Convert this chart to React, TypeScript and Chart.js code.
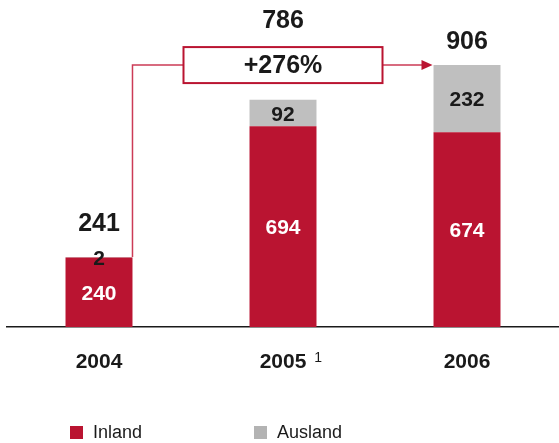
import { useEffect, useRef } from "react";
import { Chart, registerables } from "chart.js";

Chart.register(...registerables);

// ---- data ----
const categories = ["2004", "2005", "2006"];
const footnotes = ["", "1", ""];
const seriesNames = ["Inland", "Ausland"];
const inland = [240, 694, 674];
const ausland = [2, 92, 232];
const totals = [241, 786, 906];
const growthFrom = 0; // index of start category
const growthTo = 2; // index of end category
const growthLabel = "+276%";

// ---- styles ----
const RED = "#BA1431";
const GRAY = "#BFBFBF";
const LEGEND_GRAY = "#B3B3B3";
const LINE_RED = "#CC3B56";
const TEXT = "#1A1A1A";
const FONT = '"Liberation Sans", Arial, Helvetica, sans-serif';

const annotationPlugin = {
  id: "customDecor",
  afterDatasetsDraw(chart: any) {
    const ctx: CanvasRenderingContext2D = chart.ctx;
    const m0 = chart.getDatasetMeta(0);
    const m1 = chart.getDatasetMeta(1);
    const xScale = chart.scales.x;
    const yScale = chart.scales.y;
    const area = chart.chartArea;
    ctx.save();
    ctx.textAlign = "center";
    ctx.textBaseline = "middle";

    // segment labels
    for (let i = 0; i < categories.length; i++) {
      const b0 = m0.data[i].getProps(["x", "y", "base"], true);
      const b1 = m1.data[i].getProps(["x", "y", "base"], true);
      ctx.font = `bold 21px ${FONT}`;
      ctx.fillStyle = "#FFFFFF";
      ctx.fillText(String(inland[i]), b0.x, (b0.y + b0.base) / 2 + 2);
      ctx.fillStyle = TEXT;
      ctx.fillText(String(ausland[i]), b1.x, (b1.y + b1.base) / 2 + 2);
    }

    // annotation geometry
    const from = m1.data[growthFrom].getProps(["x", "y", "width"], true);
    const to = m1.data[growthTo].getProps(["x", "y", "width"], true);
    const levelY = yScale.getPixelForValue(totals[growthTo]);
    const startX = from.x + from.width / 2;
    const startY = from.y;
    const endX = to.x - to.width / 2;
    const boxCx = xScale.getPixelForValue(1);
    const boxW = 199;
    const boxH = 36;
    const boxL = boxCx - boxW / 2;
    const boxR = boxCx + boxW / 2;
    const boxT = levelY - boxH / 2;

    ctx.strokeStyle = LINE_RED;
    ctx.lineWidth = 1.5;
    ctx.beginPath();
    ctx.moveTo(startX, startY);
    ctx.lineTo(startX, levelY);
    ctx.lineTo(boxL, levelY);
    ctx.moveTo(boxR, levelY);
    ctx.lineTo(endX - 9, levelY);
    ctx.stroke();
    ctx.fillStyle = RED;
    ctx.beginPath();
    ctx.moveTo(endX - 1, levelY);
    ctx.lineTo(endX - 12, levelY - 5);
    ctx.lineTo(endX - 12, levelY + 5);
    ctx.closePath();
    ctx.fill();

    ctx.fillStyle = "#FFFFFF";
    ctx.fillRect(boxL, boxT, boxW, boxH);
    ctx.strokeStyle = RED;
    ctx.lineWidth = 2;
    ctx.strokeRect(boxL, boxT, boxW, boxH);
    ctx.fillStyle = TEXT;
    ctx.font = `bold 25px ${FONT}`;
    ctx.fillText(growthLabel, boxCx, levelY + 1);

    // totals
    const lifts = [33, 0, 23];
    ctx.font = `bold 25px ${FONT}`;
    for (let i = 0; i < categories.length; i++) {
      const b = m1.data[i].getProps(["x", "y"], true);
      const coveredByBox = b.x > boxL && b.x < boxR;
      const y = coveredByBox ? boxT - 26 : b.y - lifts[i];
      ctx.fillText(String(totals[i]), b.x, y);
    }

    // footnote superscripts on category labels
    ctx.font = `bold 21px ${FONT}`;
    for (let i = 0; i < categories.length; i++) {
      if (!footnotes[i]) continue;
      const w = ctx.measureText(categories[i]).width;
      const cx = xScale.getPixelForValue(i);
      ctx.save();
      ctx.font = `14px ${FONT}`;
      ctx.textAlign = "left";
      ctx.fillText(footnotes[i], cx + w / 2 + 8, area.bottom + 31);
      ctx.restore();
    }

    // legend
    const colors = [RED, LEGEND_GRAY];
    ctx.font = `18px ${FONT}`;
    ctx.textAlign = "left";
    for (let i = 0; i < seriesNames.length; i++) {
      const lx = xScale.getPixelForValue(i) - 29;
      ctx.fillStyle = colors[i];
      ctx.fillRect(lx, 426, 13, 13);
      ctx.fillStyle = TEXT;
      ctx.fillText(seriesNames[i], lx + 23, 433);
    }
    ctx.restore();
  },
};

export default function App() {
  const ref = useRef<HTMLCanvasElement>(null);
  useEffect(() => {
    document.body.style.margin = "0";
    const chart = new Chart(ref.current!, {
      type: "bar",
      data: {
        labels: categories,
        datasets: [
          { label: seriesNames[0], data: inland, backgroundColor: RED },
          { label: seriesNames[1], data: ausland, backgroundColor: GRAY },
        ],
      },
      options: {
        animation: false,
        responsive: false,
        events: [],
        layout: { padding: { top: 9, left: 7, right: 0, bottom: 69 } },
        datasets: {
          bar: { categoryPercentage: 1, barPercentage: 0.364 },
        } as any,
        plugins: { legend: { display: false }, tooltip: { enabled: false } },
        scales: {
          x: {
            stacked: true,
            grid: { display: false, drawTicks: false },
            border: { display: true, color: TEXT, width: 1.5 },
            afterFit: (scale: any) => {
              scale.height = 47;
            },
            ticks: {
              padding: 23,
              color: TEXT,
              font: { family: FONT, size: 21, weight: "bold" },
            },
          },
          y: {
            stacked: true,
            display: false,
            min: 0,
            max: 1100,
          },
        },
      },
      plugins: [annotationPlugin],
    });
    return () => chart.destroy();
  }, []);
  return (
    <div style={{ width: 559, height: 443 }}>
      <canvas ref={ref} width={559} height={443} />
    </div>
  );
}
